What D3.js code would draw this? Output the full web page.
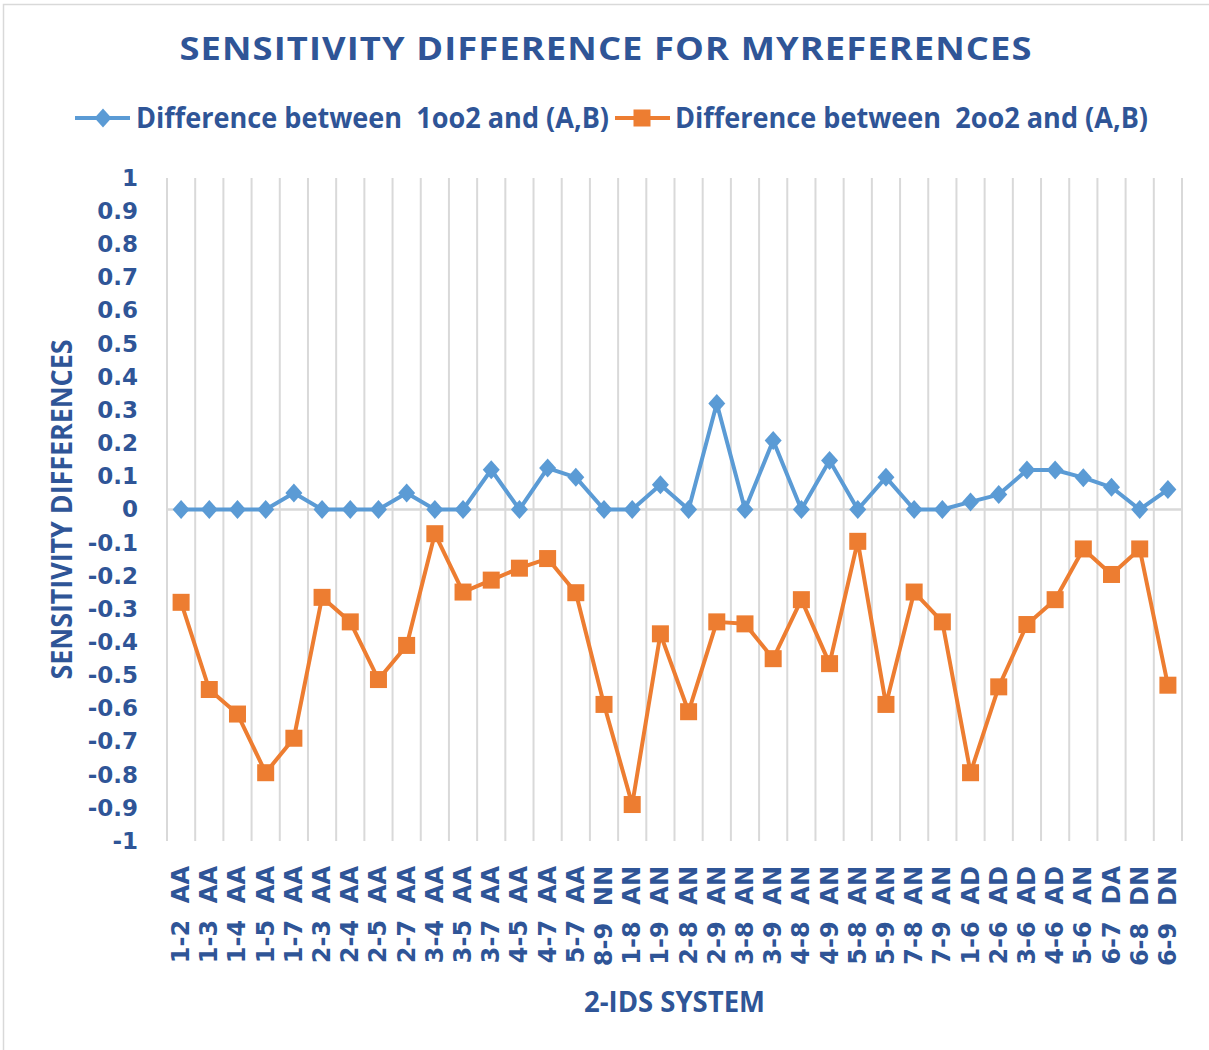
<!DOCTYPE html>
<meta charset="utf-8">
<title>Sensitivity difference</title>

<script src="https://d3js.org/d3.v7.min.js"></script>
<style>
    body { margin: 0; background: #fff; }
    text { fill: #2F5597; white-space: pre; }
</style>

<body>
    <div id="plot"></div>
</body>

<script>
    // categories (2-IDS systems)
    var systems = ["1-2  AA","1-3  AA","1-4  AA","1-5  AA","1-7  AA","2-3  AA","2-4  AA","2-5  AA","2-7  AA",
        "3-4  AA","3-5  AA","3-7  AA","4-5  AA","4-7  AA","5-7  AA","8-9  NN","1-8  AN","1-9  AN","2-8  AN",
        "2-9  AN","3-8  AN","3-9  AN","4-8  AN","4-9  AN","5-8  AN","5-9  AN","7-8  AN","7-9  AN","1-6  AD",
        "2-6  AD","3-6  AD","4-6  AD","5-6  AN","6-7  DA","6-8  DN","6-9  DN"];

    var diff1oo2 = [0,0,0,0,0.05,0,0,0,0.05,0,0,0.12,0,0.125,0.097,0,0,0.075,0,
        0.32,0,0.208,0,0.148,0,0.097,0,0,0.023,0.045,0.119,0.119,0.096,0.067,0,0.06];

    var diff2oo2 = [-0.28,-0.543,-0.617,-0.794,-0.69,-0.265,-0.339,-0.513,-0.41,-0.073,-0.249,-0.213,-0.177,
        -0.148,-0.251,-0.588,-0.89,-0.375,-0.61,-0.339,-0.345,-0.45,-0.272,-0.465,-0.096,-0.588,-0.249,-0.339,
        -0.794,-0.535,-0.347,-0.272,-0.119,-0.196,-0.119,-0.53];

    var yTicks = [1,0.9,0.8,0.7,0.6,0.5,0.4,0.3,0.2,0.1,0,-0.1,-0.2,-0.3,-0.4,-0.5,-0.6,-0.7,-0.8,-0.9,-1];

    var seriesNames = ["Difference between  1oo2 and (A,B)", "Difference between  2oo2 and (A,B)"];

    var W = 1209, H = 1050;
    var margin = {top: 178, right: 27, bottom: 209, left: 167};
    var width = W - margin.left - margin.right,
        height = H - margin.top - margin.bottom;

    var blue = "#5B9BD5", orange = "#ED7D31", grid = "#D9D9D9", ink = "#2F5597";

    var diamond = "M0,-9.5L8.5,0L0,9.5L-8.5,0Z";

    var root = d3.select("#plot").append("svg")
        .attr("width", W)
        .attr("height", H);

    // chart border
    root.append("rect")
        .attr("x", 3.5).attr("y", 4.5)
        .attr("width", W + 10).attr("height", H + 10)
        .attr("fill", "none").attr("stroke", "#D9D9D9").attr("stroke-width", 1.5);

    // title
    root.append("text")
        .attr("x", 606).attr("y", 60)
        .attr("text-anchor", "middle")
        .attr("textLength", 853).attr("lengthAdjust", "spacingAndGlyphs")
        .style("font", "bold 33px 'Open Sans'")
        .style("letter-spacing", "1px")
        .text("SENSITIVITY DIFFERENCE FOR MYREFERENCES");

    var svg = root.append("g")
        .attr("transform", "translate(" + margin.left + "," + margin.top + ")");

    var x = d3.scaleBand()
        .domain(systems)
        .range([0, width])
        .paddingInner(0).paddingOuter(0);

    var y = d3.scaleLinear()
        .domain([-1, 1])
        .range([height, 0]);

    // vertical gridlines between categories
    var bounds = systems.map(function (d) { return x(d); }).concat([width]);
    svg.append("g")
        .selectAll("line")
        .data(bounds)
        .enter()
        .append("line")
        .attr("x1", function (d) { return d; })
        .attr("x2", function (d) { return d; })
        .attr("y1", 0).attr("y2", height)
        .attr("stroke", grid).attr("stroke-width", 2);

    // zero line (horizontal axis)
    svg.append("line")
        .attr("x1", 0).attr("x2", width)
        .attr("y1", y(0)).attr("y2", y(0))
        .attr("stroke", grid).attr("stroke-width", 2.5);

    // Y axis
    var yAxis = svg.append("g")
        .attr("transform", "translate(-29,0)")
        .call(d3.axisLeft(y).tickValues(yTicks).tickSize(0).tickPadding(0)
            .tickFormat(function (d) { return String(+d.toFixed(1)); }));
    yAxis.select(".domain").remove();
    yAxis.selectAll("text")
        .attr("fill", ink)
        .style("font", "bold 23px 'DejaVu Sans'");

    root.append("text")
        .attr("transform", "translate(72," + (margin.top + y(0)) + ") rotate(-90)")
        .attr("text-anchor", "middle")
        .attr("textLength", 340).attr("lengthAdjust", "spacingAndGlyphs")
        .style("font", "bold 28px 'Open Sans'")
        .text("SENSITIVITY DIFFERENCES");

    // X labels
    svg.append("g")
        .selectAll("text")
        .data(systems)
        .enter()
        .append("text")
        .attr("transform", function (d) {
            return "translate(" + (x(d) + x.bandwidth() / 2 + 8) + "," + (height + 25) + ") rotate(-90)";
        })
        .attr("text-anchor", "end")
        .style("font", "bold 24px 'DejaVu Sans'")
        .text(function (d) { return d; });

    root.append("text")
        .attr("x", margin.left + width / 2).attr("y", 1012)
        .attr("text-anchor", "middle")
        .attr("textLength", 181).attr("lengthAdjust", "spacingAndGlyphs")
        .style("font", "bold 28px 'Open Sans'")
        .text("2-IDS SYSTEM");

    var line = d3.line()
        .x(function (d, i) { return x(systems[i]) + x.bandwidth() / 2; })
        .y(function (d) { return y(d); });

    // series 1 - diamonds
    svg.append("path")
        .datum(diff1oo2)
        .attr("d", line)
        .attr("fill", "none").attr("stroke", blue).attr("stroke-width", 4)
        .attr("stroke-linejoin", "round");
    svg.append("g")
        .selectAll("path")
        .data(diff1oo2)
        .enter()
        .append("path")
        .attr("d", diamond)
        .attr("transform", function (d, i) {
            return "translate(" + (x(systems[i]) + x.bandwidth() / 2) + "," + y(d) + ")";
        })
        .attr("fill", blue);

    // series 2 - squares
    svg.append("path")
        .datum(diff2oo2)
        .attr("d", line)
        .attr("fill", "none").attr("stroke", orange).attr("stroke-width", 4)
        .attr("stroke-linejoin", "round");
    svg.append("g")
        .selectAll("rect")
        .data(diff2oo2)
        .enter()
        .append("rect")
        .attr("x", function (d, i) { return x(systems[i]) + x.bandwidth() / 2 - 8.5; })
        .attr("y", function (d) { return y(d) - 8.5; })
        .attr("width", 17).attr("height", 17)
        .attr("fill", orange);

    // legend
    var legend = root.append("g").attr("transform", "translate(0,118)");
    var items = [
        {name: seriesNames[0], color: blue, x0: 75, tx: 136, shape: "diamond"},
        {name: seriesNames[1], color: orange, x0: 615, tx: 675, shape: "square"}
    ];
    items.forEach(function (it) {
        legend.append("line")
            .attr("x1", it.x0).attr("x2", it.x0 + 55)
            .attr("y1", 0).attr("y2", 0)
            .attr("stroke", it.color).attr("stroke-width", 4);
        if (it.shape === "diamond") {
            legend.append("path")
                .attr("d", diamond)
                .attr("transform", "translate(" + (it.x0 + 28) + ",0)")
                .attr("fill", it.color);
        } else {
            legend.append("rect")
                .attr("x", it.x0 + 27 - 8.5).attr("y", -8.5)
                .attr("width", 17).attr("height", 17)
                .attr("fill", it.color);
        }
        legend.append("text")
            .attr("x", it.tx).attr("y", 10)
            .attr("textLength", 473).attr("lengthAdjust", "spacingAndGlyphs")
            .style("font", "bold 28px 'Open Sans'")
            .text(it.name);
    });
</script>
